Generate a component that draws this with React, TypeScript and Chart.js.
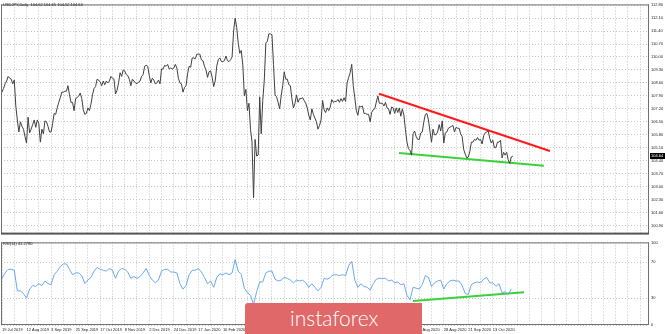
import React, { useEffect, useRef } from 'react';
import { Chart, registerables } from 'chart.js';
Chart.register(...registerables);

// ---------- data ----------
const TITLE = 'USDJPY,Daily  104.62 104.65 104.52 104.64';
const RSI_TITLE = 'RSI(14) 41.2780';

// one date label every 16 daily bars, starting at bar 0
const DATE_LABELS = [
  '19 Jul 2019', '12 Aug 2019', '3 Sep 2019', '25 Sep 2019', '17 Oct 2019', '8 Nov 2019',
  '2 Dec 2019', '24 Dec 2019', '17 Jan 2020', '10 Feb 2020', '3 Mar 2020', '25 Mar 2020',
  '16 Apr 2020', '8 May 2020', '1 Jun 2020', '23 Jun 2020', '15 Jul 2020', '6 Aug 2020',
  '28 Aug 2020', '21 Sep 2020', '13 Oct 2020',
];
const LABEL_STEP = 16;
const GRID_STEP = 8;
const X_MIN = -0.65;
const X_MAX = 421.8;

// daily closes, one row per 16-bar label interval
const PRICE_CLOSE = [
  108.10, 108.30, 108.55, 108.70, 108.95, 108.85, 108.80, 108.55, 108.75, 107.35, 106.60, 105.95, 106.50, 106.25, 106.10, 105.70,
  105.35, 106.75, 105.90, 106.10, 106.35, 106.60, 106.20, 106.60, 106.40, 105.40, 106.10, 105.85, 106.55, 106.50, 106.25, 105.95,
  105.95, 106.40, 106.95, 106.90, 107.25, 107.55, 107.80, 108.10, 108.10, 108.15, 108.15, 108.45, 107.95, 107.55, 107.55, 107.10,
  107.75, 107.80, 107.90, 108.05, 107.75, 107.15, 106.90, 106.95, 107.25, 107.10, 107.45, 107.95, 108.30, 108.40, 108.80, 108.75,
  108.65, 108.45, 108.70, 108.50, 108.70, 108.60, 108.70, 108.95, 108.85, 108.80, 108.00, 108.20, 108.60, 109.15, 108.95, 109.30,
  109.25, 109.05, 109.00, 108.80, 108.45, 108.80, 108.70, 108.60, 108.55, 108.65, 108.70, 108.95, 109.05, 109.50, 109.55, 109.50,
  109.00, 108.60, 108.85, 108.75, 108.55, 108.60, 108.75, 108.55, 109.35, 109.35, 109.55, 109.50, 109.60, 109.35, 109.40, 109.35,
  109.40, 109.60, 109.40, 108.85, 108.60, 108.55, 108.10, 108.35, 108.45, 109.10, 109.50, 109.45, 109.95, 109.95, 109.90, 110.15,
  110.15, 110.15, 109.85, 109.80, 109.50, 109.30, 108.90, 109.20, 109.25, 108.90, 108.40, 108.70, 109.50, 109.85, 109.95, 109.75,
  109.75, 109.80, 110.05, 109.80, 109.75, 109.85, 110.00, 111.40, 112.10, 111.60, 110.75, 110.20, 110.35, 109.55, 107.90, 108.25,
  107.10, 107.50, 106.10, 105.40, 102.40, 105.55, 104.65, 104.70, 107.85, 105.85, 107.65, 108.75, 110.75, 110.85, 111.25, 111.25,
  111.20, 109.60, 107.95, 107.85, 107.55, 107.20, 107.90, 108.45, 109.20, 108.80, 108.80, 108.50, 108.45, 107.75, 107.25, 107.50,
  107.95, 107.55, 107.75, 107.75, 107.80, 107.65, 107.50, 107.25, 106.85, 106.60, 107.20, 106.90, 106.70, 106.50, 106.10, 106.30,
  106.60, 107.65, 107.15, 107.00, 107.25, 107.10, 107.30, 107.70, 107.55, 107.60, 107.60, 107.70, 107.55, 107.75, 107.60, 107.80,
  107.60, 108.60, 108.90, 109.15, 109.60, 108.45, 107.80, 107.10, 106.85, 107.35, 107.30, 107.35, 106.95, 106.95, 106.90, 106.90,
  106.50, 107.00, 107.15, 107.20, 107.55, 107.90, 107.50, 107.50, 107.50, 107.35, 107.55, 107.25, 107.20, 106.90, 107.30, 107.25,
  106.95, 107.25, 107.00, 107.25, 106.80, 107.20, 106.85, 106.10, 105.40, 105.05, 104.95, 104.70, 105.85, 106.00, 105.70, 105.55,
  105.55, 105.90, 105.95, 106.50, 106.90, 106.95, 106.60, 106.00, 105.40, 106.10, 105.80, 105.80, 105.95, 106.35, 106.00, 106.55,
  105.35, 105.90, 105.95, 106.15, 106.20, 106.25, 106.30, 105.95, 106.20, 106.15, 106.15, 105.85, 105.70, 105.00, 104.75, 104.55,
  104.60, 104.90, 105.40, 105.40, 105.55, 105.50, 105.65, 105.50, 105.55, 105.30, 105.75, 105.90, 105.95, 106.00, 105.60, 105.35,
  105.50, 105.10, 105.10, 105.40, 105.40, 105.50, 104.55, 104.85, 104.70, 104.85, 104.45, 104.25, 104.60, 104.64,
];

const PRICE_TICKS = [
  112.80, 112.10, 111.40, 110.70, 110.00, 109.30, 108.60, 107.90, 107.20,
  106.50, 105.80, 105.10, 104.40, 103.70, 103.00, 102.30, 101.60, 100.90,
];
const PRICE_MIN = 100.46;
const PRICE_MAX = 112.84;

// RSI(14), one value every 2 bars
const RSI_STEP = 2;
const RSI_VALUES = [
  52, 58, 62, 62, 61, 38, 38, 35,
  30, 40, 44, 43, 46, 44, 49, 46,
  45, 56, 60, 65, 68, 68, 62, 56,
  58, 58, 55, 46, 50, 53, 60, 64,
  62, 61, 60, 63, 61, 52, 60, 63,
  62, 59, 52, 54, 52, 54, 58, 63,
  55, 50, 47, 50, 60, 62, 62, 59,
  59, 58, 46, 40, 44, 56, 61, 61,
  63, 59, 53, 46, 49, 42, 53, 57,
  56, 58, 56, 58, 73, 60, 56, 41,
  36, 33, 23, 37, 48, 48, 58, 60,
  60, 51, 49, 50, 53, 52, 50, 47,
  50, 49, 50, 47, 42, 46, 42, 38,
  42, 52, 51, 53, 56, 56, 55, 56,
  55, 66, 71, 50, 42, 46, 43, 42,
  39, 46, 51, 52, 52, 52, 49, 50,
  47, 48, 45, 46, 33, 28, 42, 41,
  40, 45, 55, 53, 43, 47, 49, 50,
  40, 46, 49, 50, 49, 49, 44, 35,
  34, 45, 47, 48, 47, 51, 53, 47,
  47, 43, 46, 36, 37, 34, 40,
];
const RSI_MAX = 92;
const RSI_LEVELS = [0, 30, 70, 92];
const RSI_LEVEL_LABELS = ['0', '30', '70', '100'];

// hand-drawn trend lines: [bar, value]
const RESISTANCE_BARS = [245.8, 357.2];
const RESISTANCE_PRICES = [108.01, 104.92];
const SUPPORT_BARS = [258.8, 353.3];
const SUPPORT_PRICES = [104.81, 104.13];
const RSI_SUPPORT_BARS = [267.9, 340.3];
const RSI_SUPPORT_VALUES = [26.7, 36.4];

// ---------- styling ----------
const FONT = 'Liberation Sans';
const GRID_COLOR = '#c4c4c4';
const GRID_DASH = [1, 2];
const FRAME_COLOR = '#707070';

function gridTicks() {
  const out: { value: number }[] = [];
  for (let v = 0; v <= X_MAX; v += GRID_STEP) out.push({ value: v });
  return out;
}

const framePlugin = (thickBottom: boolean) => ({
  id: 'frame',
  afterDraw(chart: any) {
    const { ctx, chartArea: a } = chart;
    ctx.save();
    ctx.fillStyle = FRAME_COLOR;
    ctx.fillRect(a.left, a.top, a.right - a.left, 1);
    ctx.fillRect(a.left, a.top, 1, a.bottom - a.top);
    ctx.fillRect(a.right - 1, a.top, 1, a.bottom - a.top);
    if (thickBottom) {
      ctx.fillStyle = '#555555';
      ctx.fillRect(a.left, a.bottom - 1, a.right - a.left, 2);
    } else {
      ctx.fillRect(a.left, a.bottom - 1, a.right - a.left, 1);
    }
    ctx.restore();
  },
});

export default function App() {
  const mainRef = useRef<HTMLCanvasElement>(null);
  const rsiRef = useRef<HTMLCanvasElement>(null);

  useEffect(() => {
    const last = PRICE_CLOSE[PRICE_CLOSE.length - 1];
    const mainChart = new Chart(mainRef.current!, {
      type: 'line',
      data: {
        datasets: [
          {
            data: PRICE_CLOSE.map((p, i) => ({ x: i, y: p })),
            borderColor: '#404040',
            borderWidth: 1,
            pointRadius: 0,
            tension: 0,
          },
          {
            data: RESISTANCE_BARS.map((b, i) => ({ x: b, y: RESISTANCE_PRICES[i] })),
            borderColor: '#ff1a1a',
            borderWidth: 2,
            pointRadius: 0,
          },
          {
            data: SUPPORT_BARS.map((b, i) => ({ x: b, y: SUPPORT_PRICES[i] })),
            borderColor: '#3ad23a',
            borderWidth: 2,
            pointRadius: 0,
          },
        ],
      },
      options: {
        animation: false,
        responsive: false,
        devicePixelRatio: 1,
        layout: { padding: { left: 1, top: 1, bottom: 1, right: 0 } },
        plugins: { legend: { display: false }, tooltip: { enabled: false } },
        scales: {
          x: {
            type: 'linear',
            min: X_MIN,
            max: X_MAX,
            afterBuildTicks: (s: any) => { s.ticks = gridTicks(); },
            afterFit: (s: any) => { s.height = 0; },
            ticks: { display: false },
            grid: { color: GRID_COLOR, drawTicks: false },
            border: { display: false, dash: GRID_DASH },
          },
          y: {
            position: 'right',
            min: PRICE_MIN,
            max: PRICE_MAX,
            afterBuildTicks: (s: any) => { s.ticks = PRICE_TICKS.map((v) => ({ value: v })); },
            afterFit: (s: any) => { s.width = 16; },
            ticks: {
              padding: 2,
              color: '#222',
              font: { family: FONT, size: 4 },
              callback: (v: any) => Number(v).toFixed(2),
            },
            grid: { color: GRID_COLOR, drawTicks: false },
            border: { display: false, dash: GRID_DASH },
          },
        },
      },
      plugins: [
        framePlugin(true),
        {
          id: 'texts',
          afterDraw(chart: any) {
            const { ctx } = chart;
            const y = chart.scales.y.getPixelForValue(last);
            ctx.save();
            ctx.fillStyle = '#000';
            ctx.fillRect(650, Math.round(y) - 3, 15, 6);
            ctx.fillStyle = '#fff';
            ctx.font = `4px "${FONT}"`;
            ctx.textBaseline = 'middle';
            ctx.fillText(last.toFixed(2), 651, Math.round(y));
            ctx.fillStyle = '#222';
            ctx.textBaseline = 'top';
            ctx.fillText(TITLE, 3, 3);
            ctx.restore();
          },
        },
      ],
    } as any);

    const rsiChart = new Chart(rsiRef.current!, {
      type: 'line',
      data: {
        datasets: [
          {
            data: RSI_VALUES.map((v, i) => ({ x: i * RSI_STEP, y: v })),
            borderColor: '#6aa9ee',
            borderWidth: 1,
            pointRadius: 0,
            tension: 0,
          },
          {
            data: RSI_SUPPORT_BARS.map((b, i) => ({ x: b, y: RSI_SUPPORT_VALUES[i] })),
            borderColor: '#3ad23a',
            borderWidth: 2,
            pointRadius: 0,
          },
        ],
      },
      options: {
        animation: false,
        responsive: false,
        devicePixelRatio: 1,
        layout: { padding: { left: 1, top: 1, bottom: 0, right: 0 } },
        plugins: { legend: { display: false }, tooltip: { enabled: false } },
        scales: {
          x: {
            type: 'linear',
            min: X_MIN,
            max: X_MAX,
            afterBuildTicks: (s: any) => { s.ticks = gridTicks(); },
            afterFit: (s: any) => { s.height = 9; },
            ticks: {
              autoSkip: false,
              maxRotation: 0,
              align: 'start',
              padding: 2,
              color: '#222',
              font: { family: FONT, size: 4 },
              callback: (v: any) => {
                const n = Number(v);
                const k = n / LABEL_STEP;
                return Number.isInteger(k) && k < DATE_LABELS.length ? DATE_LABELS[k] : '';
              },
            },
            grid: { color: GRID_COLOR, drawTicks: false },
            border: { display: false, dash: GRID_DASH },
          },
          y: {
            position: 'right',
            min: 0,
            max: RSI_MAX,
            afterBuildTicks: (s: any) => { s.ticks = RSI_LEVELS.map((v) => ({ value: v })); },
            afterFit: (s: any) => { s.width = 16; },
            ticks: {
              padding: 2,
              color: '#222',
              font: { family: FONT, size: 4 },
              callback: (v: any) => RSI_LEVEL_LABELS[RSI_LEVELS.indexOf(Number(v))],
            },
            grid: { color: GRID_COLOR, drawTicks: false },
            border: { display: false, dash: GRID_DASH },
          },
        },
      },
      plugins: [
        framePlugin(false),
        {
          id: 'rsiTitle',
          afterDraw(chart: any) {
            const { ctx } = chart;
            ctx.save();
            ctx.fillStyle = '#222';
            ctx.font = `4px "${FONT}"`;
            ctx.textBaseline = 'top';
            ctx.fillText(RSI_TITLE, 3, 4);
            ctx.restore();
          },
        },
      ],
    } as any);

    return () => {
      mainChart.destroy();
      rsiChart.destroy();
    };
  }, []);

  return (
    <div style={{ position: 'absolute', left: 0, top: 0, width: 665, height: 334, background: '#fff', overflow: 'hidden' }}>
      <canvas ref={mainRef} width={665} height={238} style={{ position: 'absolute', left: 0, top: 0 }} />
      <canvas ref={rsiRef} width={665} height={96} style={{ position: 'absolute', left: 0, top: 238 }} />
      <div
        style={{
          position: 'absolute',
          left: 245,
          top: 303,
          width: 177,
          height: 31,
          background: '#e06868',
          borderTopLeftRadius: 3,
          color: '#fff',
          fontFamily: 'Lato, "Open Sans", sans-serif',
          fontWeight: 300,
          fontSize: 21,
          lineHeight: '30px',
          paddingLeft: 45,
          boxSizing: 'border-box',
        }}
      >
        instaforex
      </div>
    </div>
  );
}
